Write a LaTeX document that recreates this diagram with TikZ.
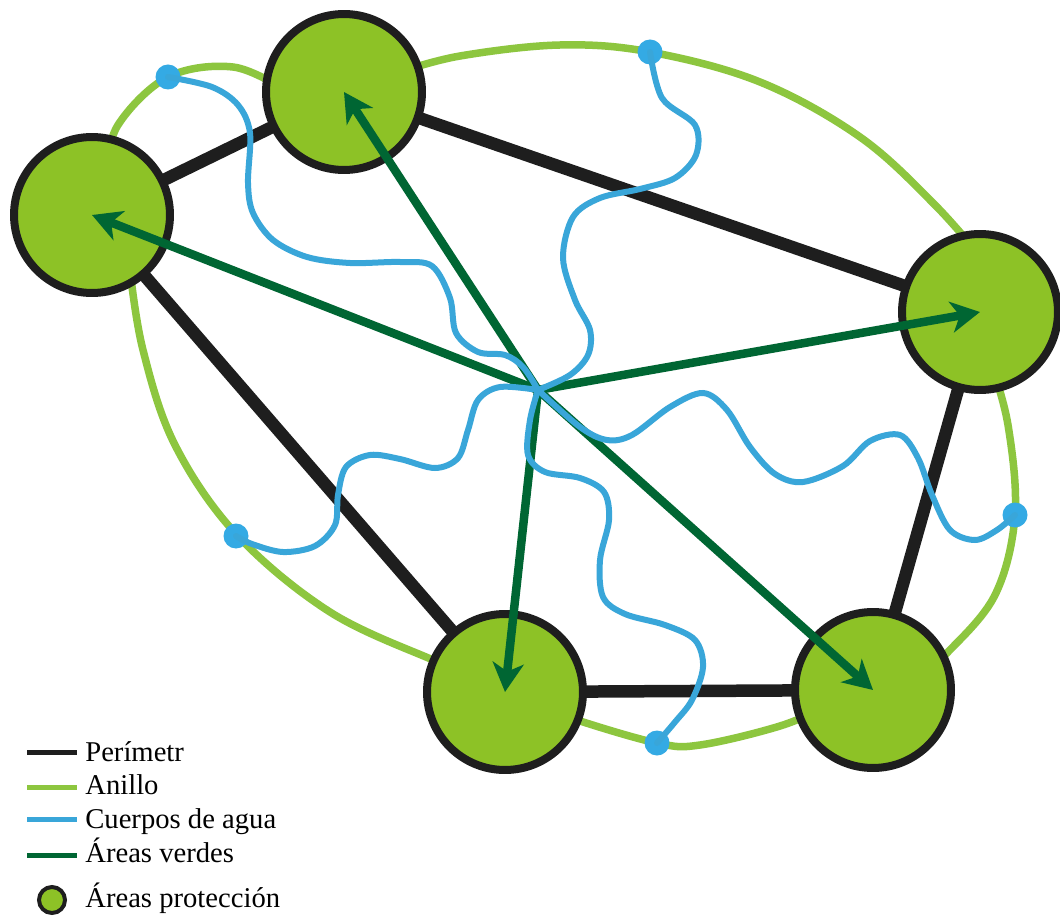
\documentclass[tikz,border=0pt]{standalone}
\usepackage{fontspec}
\setmainfont{Liberation Serif}
\usetikzlibrary{arrows.meta,backgrounds}
\definecolor{pzverde}{RGB}{141,194,38}
\definecolor{pzanillo}{RGB}{141,198,63}
\definecolor{pzagua}{RGB}{57,166,217}
\definecolor{pzpunto}{RGB}{52,170,228}
\definecolor{pzoscuro}{RGB}{0,102,51}
\definecolor{pznegro}{RGB}{30,30,30}

\begin{document}
\begin{tikzpicture}[x=0.02cm,y=-0.02cm,
  every node/.style={font=\fontsize{16.3}{19}\selectfont},
  area/.style={circle,draw=pznegro,fill=pzverde,line width=0.16cm,minimum size=3.12cm,inner sep=0pt},
  perim/.style={pznegro,line width=0.25cm},
  anillo/.style={pzanillo,line width=0.15cm},
  agua/.style={pzagua,line width=0.12cm,line cap=round},
  verde/.style={pzoscuro,line width=0.17cm,-{Stealth[length=0.58cm,width=0.62cm,inset=0.17cm]}},
  punto/.style={circle,fill=pzpunto,minimum size=0.5cm,inner sep=0pt},
  leyenda/.style={anchor=base west,inner sep=0pt}]

\useasboundingbox (0,0) rectangle (1060,918);

\node[area] (c1) at (92,215) {};
\node[area] (c2) at (344,92) {};
\node[area] (c3) at (980,312) {};
\node[area] (c4) at (505,692) {};
\node[area] (c5) at (873,690) {};
\coordinate (hub) at (538,390);

\begin{scope}[on background layer]
\fill[white] (0,0) rectangle (1060,918);
% anillo
\draw[anillo] plot[smooth,tension=0.6] coordinates {(105,175) (118,125) (168,77) (233,67) (285,90)};
\draw[anillo] plot[smooth,tension=0.6] coordinates {(400,72) (460,56) (560,45) (650,52) (760,82) (860,137) (935,205) (985,262)};
\draw[anillo] plot[smooth,tension=0.6] coordinates {(990,360) (1008,425) (1015,515) (995,595) (947,653) (925,670)};
\draw[anillo] plot[smooth,tension=0.6] coordinates {(830,705) (780,726) (700,745) (657,743) (577,720) (550,708)};
\draw[anillo] plot[smooth,tension=0.6] coordinates {(460,670) (433,660) (330,612) (237,535) (175,445) (143,350) (130,270)};
% perimetro
\draw[perim] (c1.center) -- (c2.center) -- (c3.center) -- (c5.center) -- (c4.center) -- cycle;
\end{scope}

\node[punto] (d1) at (168,77) {};
\node[punto] (d2) at (650,52) {};
\node[punto] (d3) at (1015,515) {};
\node[punto] (d4) at (657,743) {};
\node[punto] (d5) at (236,536) {};

\draw[verde] (hub) -- (c1.center);
\draw[verde] (hub) -- (c2.center);
\draw[verde] (hub) -- (c3.center);
\draw[verde] (hub) -- (c4.center);
\draw[verde] (hub) -- (c5.center);

% cuerpos de agua
\draw[agua] plot[smooth,tension=0.55] coordinates {(hub) (523,367) (505,355) (478,352) (456,333) (450,298) (432,266) (400,262) (350,263) (307,257) (273,240) (253,213) (248,183) (250,133) (238,105) (212,87) (d1.center)};
\draw[agua] plot[smooth,tension=0.55] coordinates {(hub) (570,375) (588,355) (590,330) (575,300) (563,258) (573,217) (600,198) (640,189) (675,178) (696,155) (695,125) (662,98) (d2.center)};
\draw[agua] plot[smooth,tension=0.55] coordinates {(hub) (580,427) (607,440) (632,435) (670,407) (703,393) (727,410) (750,447) (775,474) (803,482) (843,466) (870,441) (900,435) (918,458) (932,495) (950,530) (975,540) (997,530) (d3.center)};
\draw[agua] plot[smooth,tension=0.55] coordinates {(hub) (530,420) (528,455) (545,472) (580,478) (604,492) (609,520) (600,560) (603,597) (625,614) (665,625) (695,640) (703,667) (692,700) (675,722) (d4.center)};
\draw[agua] plot[smooth,tension=0.55] coordinates {(hub) (500,387) (478,400) (468,430) (458,458) (435,468) (400,459) (370,455) (346,467) (338,495) (335,525) (315,546) (283,552) (252,544) (d5.center)};

% leyenda
\node[leyenda] (lper) at (85,761) {Perímetr};
\node[leyenda] (lani) at (85,794) {Anillo};
\node[leyenda] (lagu) at (85,828) {Cuerpos de agua};
\node[leyenda] (lver) at (85,862) {Áreas verdes};
\node[leyenda] (lpro) at (85,907) {Áreas protección};
\draw[pznegro,line width=0.1cm] (27,752) -- (77,752);
\draw[pzanillo,line width=0.1cm] (27,787) -- (77,787);
\draw[pzagua,line width=0.1cm] (27,819) -- (77,819);
\draw[pzoscuro,line width=0.1cm] (27,855) -- (77,855);
\node[area,line width=0.08cm,minimum size=0.52cm] (lcir) at (52,900) {};
\end{tikzpicture}
\end{document}
